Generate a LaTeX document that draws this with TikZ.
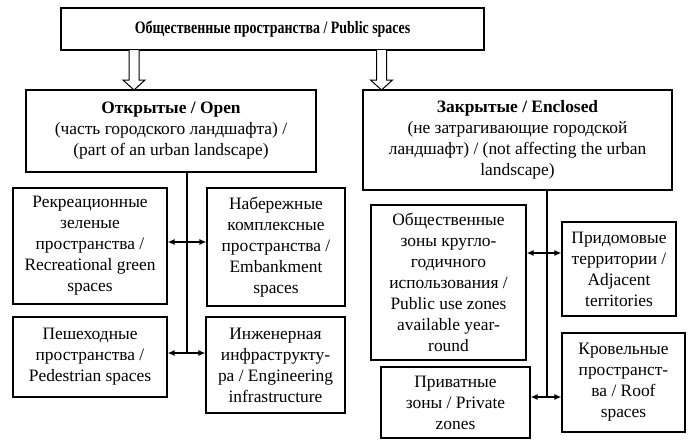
\documentclass[tikz,border=0pt]{standalone}
\usepackage{fontspec}
\setmainfont{Liberation Serif}
\newfontfamily\narrowfont[FakeStretch=0.8]{Liberation Serif}
\usetikzlibrary{arrows.meta,positioning,calc}

\begin{document}
\begin{tikzpicture}[x=1pt,y=-1pt,>=Latex,
 font=\fontsize{17.4}{21}\selectfont,
 box/.style={draw=black,line width=1.1pt,align=center,inner sep=0pt},
 spine/.style={draw=black,line width=1.8pt},
 arr/.style={{Latex[length=7pt,width=6pt]}-{Latex[length=7pt,width=6pt]},draw=black,line width=1.3pt},
 hollow/.style={draw=black,line width=1pt,fill=white}]
\useasboundingbox (0,0) rectangle (690,445);
% top level
\node[box,minimum width=423pt,minimum height=42pt] (pub) at (272.5,29)
 {\narrowfont\bfseries Общественные пространства / Public spaces};
\node[box,minimum width=290pt,minimum height=82pt] (open) at (171,131)
 {\textbf{Открытые / Open}\\(часть городского ландшафта) /\\(part of an urban landscape)};
\node[box,minimum width=309pt,minimum height=100pt] (encl) at (517.5,140)
 {\textbf{Закрытые / Enclosed}\\(не затрагивающие городской\\ландшафт) / (not affecting the urban\\landscape)};
% open spaces
\node[box,minimum width=154pt,minimum height=116pt] (rec) at (90,246)
 {Рекреационные\\зеленые\\пространства /\\Recreational green\\spaces};
\node[box,minimum width=138pt,minimum height=118pt] (emb) at (276,247)
 {Набережные\\комплексные\\пространства /\\Embankment\\spaces};
\node[box,minimum width=154pt,minimum height=80pt] (ped) at (90,357)
 {Пешеходные\\пространства /\\Pedestrian spaces};
\node[box,minimum width=139pt,minimum height=96pt] (eng) at (275.5,365)
 {Инженерная\\инфраструкту-\\ра / Engineering\\infrastructure};
% enclosed spaces
\node[box,minimum width=155pt,minimum height=155pt] (zone) at (448.5,282.5)
 {Общественные\\зоны кругло-\\годичного\\использования /\\Public use zones\\available year-\\round};
\node[box,minimum width=114pt,minimum height=94pt] (adj) at (619,269)
 {Придомовые\\территории /\\Adjacent\\territories};
\node[box,minimum width=149pt,minimum height=71pt] (priv) at (455.5,402.5)
 {Приватные\\зоны / Private\\zones};
\node[box,minimum width=123pt,minimum height=99pt] (roof) at (623.5,382.5)
 {Кровельные\\пространст-\\ва / Roof\\spaces};
% hollow arrows
\coordinate (ha) at (134,50);
\coordinate (hb) at (381.5,50);
\foreach \c in {ha,hb}{
 \draw[hollow] (\c) ++(-5,0) -- ++(0,30) -- ++(-6,0) -- ++(11,10) -- ++(11,-10) -- ++(-6,0) -- ++(0,-30);}
% spines
\coordinate (sl) at (187,0);
\coordinate (sr) at (547,0);
\draw[spine] (open.south -| sl) -- (sl |- 0,353);
\draw[spine] (encl.south -| sr) -- (sr |- 0,397);
\draw[arr] (rec.east |- 0,242) -- (emb.west |- 0,242);
\draw[arr] (ped.east |- 0,353) -- (eng.west |- 0,353);
\draw[arr] (zone.east |- 0,253) -- (adj.west |- 0,253);
\draw[arr] (priv.east |- 0,397) -- (roof.west |- 0,397);
\end{tikzpicture}
\end{document}
